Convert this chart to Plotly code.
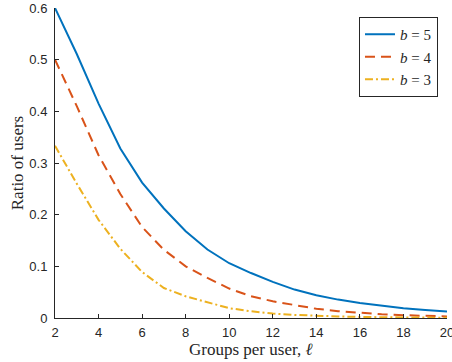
import plotly.graph_objects as go

groups = list(range(2, 21))
b5 = [0.6, 0.511, 0.415, 0.328, 0.262, 0.212, 0.168, 0.1325, 0.106, 0.087, 0.070,
      0.055, 0.044, 0.0356, 0.029, 0.024, 0.019, 0.0155, 0.0124]
b4 = [0.5, 0.41, 0.315, 0.24, 0.176, 0.132, 0.100, 0.0775, 0.057, 0.042, 0.0324,
      0.0246, 0.0178, 0.0133, 0.0097, 0.0072, 0.0055, 0.004, 0.003]
b3 = [0.3333, 0.26, 0.19, 0.134, 0.089, 0.058, 0.042, 0.030, 0.019, 0.013, 0.0085,
      0.006, 0.004, 0.003, 0.002, 0.0013, 0.0009, 0.0006, 0.0004]
names = ["<i>b</i> = 5", "<i>b</i> = 4", "<i>b</i> = 3"]
colors = ["#0072BD", "#D95319", "#EDB120"]
dashes = ["solid", "10px,6px", "8px,3px,2px,3px"]

fig = go.Figure()
for ys, nm, c, d in zip([b5, b4, b3], names, colors, dashes):
    fig.add_trace(go.Scatter(x=groups, y=ys, mode="lines", name=nm,
                             line=dict(color=c, width=2, dash=d)))

axis_common = dict(showline=True, linecolor="#262626", linewidth=1, ticks="inside",
                   ticklen=4, tickcolor="#262626", showgrid=False, zeroline=False,
                   tickfont=dict(family="Liberation Sans, Arial", size=13, color="#262626"),
                   automargin=False, mirror=False, ticklabeloverflow="allow")

title_font = dict(family="Liberation Serif, DejaVu Serif", size=17, color="#262626")

fig.update_layout(
    width=452, height=362,
    margin=dict(l=55, r=5, t=8, b=44),
    paper_bgcolor="white", plot_bgcolor="white",
    xaxis=dict(range=[2, 20], dtick=2, tick0=2, ticklabelstandoff=2, **axis_common),
    yaxis=dict(range=[0, 0.6], dtick=0.1, tick0=0, ticklabelstandoff=4,
               title=dict(text="Ratio of users", standoff=1, font=title_font),
               **axis_common),
    legend=dict(x=0.977, y=0.971, xanchor="right", yanchor="top",
                bgcolor="white", bordercolor="#262626", borderwidth=1,
                font=dict(family="Liberation Serif, DejaVu Serif", size=15, color="#262626"),
                tracegroupgap=0, itemwidth=30),
    showlegend=True,
    annotations=[dict(text="Groups per user, <i>ℓ</i>", xref="paper", yref="paper",
                      x=0.5, y=-0.102, xanchor="center", yanchor="middle",
                      showarrow=False, font=title_font)],
)

fig.write_html("out.html", config={"displayModeBar": False},
               post_script="document.body.style.margin='0';")
